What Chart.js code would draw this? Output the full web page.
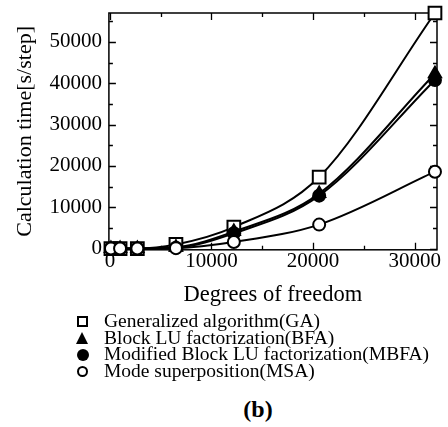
<!DOCTYPE html>
<html>
<head>
<meta charset="utf-8">
<script src="https://cdn.jsdelivr.net/npm/chart.js@4.4.1/dist/chart.umd.min.js"></script>
<style>
  html, body { margin: 0; padding: 0; background: #fff; }
  #wrap { position: relative; width: 448px; height: 427px; overflow: hidden; font-family: "Liberation Serif", "Times New Roman", serif; color: #000; }
  #c { position: absolute; left: 0; top: 0; }
  #legend { position: absolute; left: 76px; top: 313px; font-size: 19.5px; }
  #legend div { white-space: nowrap; height: 16.6px; line-height: 16.6px; position: relative; padding-left: 28px; }
  #legend i { position: absolute; box-sizing: border-box; }
  #legend i.sq { left: 1px; top: 3px; width: 11px; height: 11px; border: 2px solid #000; background: #fff; }
  #legend i.tri { left: 0; top: 2px; width: 0; height: 0; border-left: 6.5px solid transparent; border-right: 6.5px solid transparent; border-bottom: 12px solid #000; }
  #legend i.dot { left: 0.5px; top: 2.5px; width: 12px; height: 12px; border-radius: 50%; background: #000; }
  #legend i.ring { left: 1px; top: 3px; width: 11px; height: 11px; border-radius: 50%; border: 2.3px solid #000; background: #fff; }
  .cap { position: absolute; left: 0; width: 516px; text-align: center; top: 396px; font-size: 24px; font-weight: bold; }
</style>
</head>
<body>
<div id="wrap">
  <canvas id="c" width="448" height="313"></canvas>
  <div id="legend"></div>
  <div class="cap">(b)</div>
</div>
<script>
// ---- data ----
const dof  = [100, 1000, 2700, 6500, 12200, 20600, 32000];
const GA   = [0, 0, 0, 1000, 5200, 17300, 57000];
const BFA  = [0, 0, 0, 300, 4100, 13300, 42300];
const MBFA = [0, 0, 0, 200, 3700, 12800, 40800];
const MSA  = [0, 0, 0, 100, 1600, 5800, 18600];
const seriesNames = [
  "Generalized algorithm(GA)",
  "Block LU factorization(BFA)",
  "Modified Block LU factorization(MBFA)",
  "Mode superposition(MSA)"
];
const xTickValues = [0, 10000, 20000, 30000];
const yTickValues = [0, 10000, 20000, 30000, 40000, 50000];
const xTitle = "Degrees of freedom";
const yTitle = "Calculation time[s/step]";

const pts = ys => dof.map((x, i) => ({x: x, y: ys[i]}));

const frameTicks = {
  id: 'frameTicks',
  beforeDatasetsDraw(chart) {
    const {ctx, chartArea: a, scales: {x, y}} = chart;
    ctx.save();
    ctx.strokeStyle = '#000';
    ctx.lineWidth = 1.5;
    ctx.strokeRect(a.left, a.top, a.right - a.left, a.bottom - a.top);
    ctx.lineWidth = 1.3;
    const xs = [];
    for (let i = 0; i < xTickValues.length; i++) {
      xs.push([xTickValues[i], 7]);
      if (i + 1 < xTickValues.length) xs.push([(xTickValues[i] + xTickValues[i + 1]) / 2, 4]);
    }
    xs.forEach(([v, len]) => {
      const px = Math.round(x.getPixelForValue(v)) + 0.5;
      ctx.beginPath();
      ctx.moveTo(px, a.bottom); ctx.lineTo(px, a.bottom - len);
      ctx.moveTo(px, a.top); ctx.lineTo(px, a.top + len);
      ctx.stroke();
    });
    const ys = [];
    for (let i = 0; i < yTickValues.length; i++) {
      ys.push([yTickValues[i], 7]);
      ys.push([yTickValues[i] + 5000, 4]);
    }
    ys.forEach(([v, len]) => {
      if (v > y.max) return;
      const py = Math.round(y.getPixelForValue(v)) + 0.5;
      ctx.beginPath();
      ctx.moveTo(a.left, py); ctx.lineTo(a.left + len, py);
      ctx.moveTo(a.right, py); ctx.lineTo(a.right - len, py);
      ctx.stroke();
    });
    ctx.restore();
  }
};

const common = {
  borderColor: '#000', borderWidth: 2, pointBorderWidth: 2,
  cubicInterpolationMode: 'monotone', clip: false, showLine: true
};
const noPad = s => { s.paddingTop = 0; s.paddingBottom = 0; s.paddingLeft = 0; s.paddingRight = 0; };

new Chart(document.getElementById('c'), {
  type: 'scatter',
  data: {
    datasets: [
      Object.assign({}, common, {label: seriesNames[0], data: pts(GA), pointStyle: 'rect', pointRadius: 9, pointBackgroundColor: '#fff', order: 4}),
      Object.assign({}, common, {label: seriesNames[1], data: pts(BFA), pointStyle: 'triangle', pointRadius: 7, pointBackgroundColor: '#000', order: 3}),
      Object.assign({}, common, {label: seriesNames[2], data: pts(MBFA), pointStyle: 'circle', pointRadius: 6, pointBackgroundColor: '#000', order: 2}),
      Object.assign({}, common, {label: seriesNames[3], data: pts(MSA), pointStyle: 'circle', pointRadius: 6, pointBackgroundColor: '#fff', order: 1})
    ]
  },
  options: {
    responsive: false,
    animation: false,
    devicePixelRatio: 1,
    layout: {padding: {left: 12, right: 8, top: 13, bottom: 4}},
    plugins: {legend: {display: false}, tooltip: {enabled: false}},
    scales: {
      x: {
        type: 'linear', min: -100, max: 32200,
        afterBuildTicks: s => { s.ticks = xTickValues.map(v => ({value: v})); },
        afterFit: noPad,
        grid: {display: false, drawTicks: false},
        border: {display: false},
        ticks: {color: '#000', padding: -1, maxRotation: 0, font: {family: 'Liberation Serif', size: 21}, callback: v => String(v)},
        title: {display: true, text: xTitle, color: '#000', padding: {top: 9, bottom: 0}, font: {family: 'Liberation Serif', size: 22.5}}
      },
      y: {
        type: 'linear', min: -300, max: 57000,
        afterBuildTicks: s => { s.ticks = yTickValues.map(v => ({value: v})); },
        afterFit: noPad,
        grid: {display: false, drawTicks: false},
        border: {display: false},
        ticks: {color: '#000', padding: 7, font: {family: 'Liberation Serif', size: 21}, callback: v => String(v)},
        title: {display: true, text: yTitle, color: '#000', padding: {top: 0, bottom: 4}, font: {family: 'Liberation Serif', size: 22}}
      }
    }
  },
  plugins: [frameTicks]
});

const markers = ['sq', 'tri', 'dot', 'ring'];
document.getElementById('legend').innerHTML = seriesNames.map((n, i) =>
  '<div><i class="' + markers[i] + '"></i>' + n + '</div>').join('');
</script>
</body>
</html>
